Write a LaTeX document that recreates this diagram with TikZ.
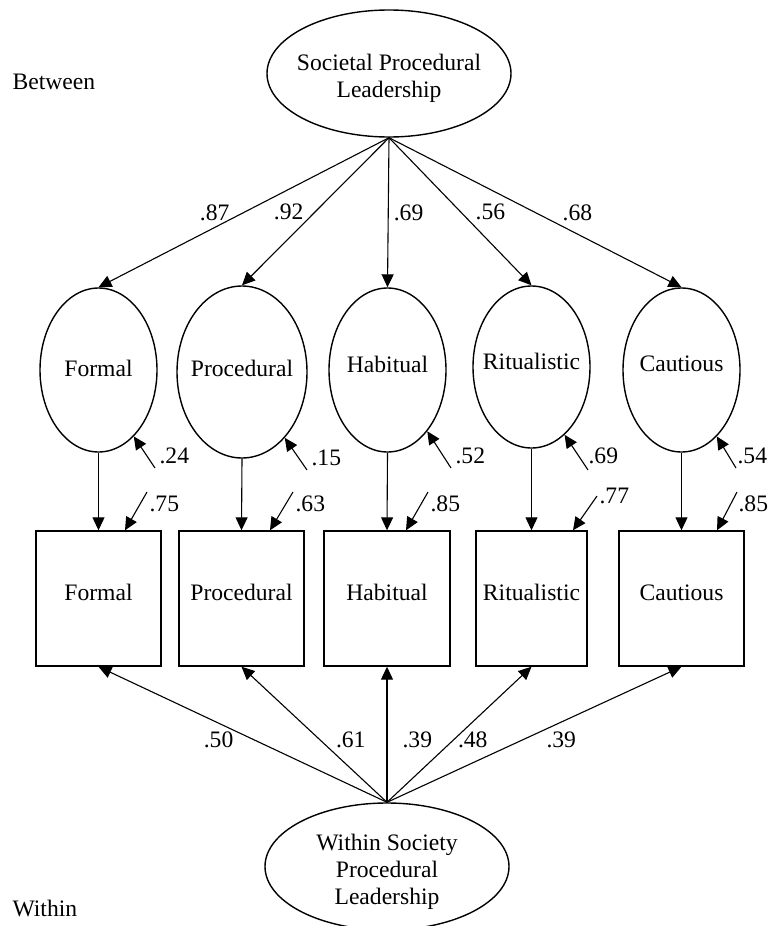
\documentclass[tikz,border=0pt]{standalone}
\usepackage{fontspec}
\setmainfont{Liberation Serif}
\usetikzlibrary{arrows.meta,shapes.geometric}
\tikzset{>={Triangle[length=6.5pt,width=6pt]}}
\tikzset{
  lat/.style={ellipse, draw, line width=0.7pt, inner sep=0pt,
    minimum width=58.5pt, minimum height=82pt},
  big/.style={lat, minimum width=122pt, minimum height=63.5pt},
  obs/.style={rectangle, draw, line width=0.7pt, inner sep=0pt,
    minimum width=62.5pt, minimum height=67.5pt},
  lbl/.style={inner sep=0pt},
  every label/.style={inner sep=0pt}
}

\begin{document}
\begin{tikzpicture}[x=0.5pt, y=-0.5pt, line width=0.55pt]
  \fontsize{11.8}{13.5}\selectfont
  \useasboundingbox (0,0) rectangle (768,926);

  \node[lbl, anchor=west] (btw) at (12,81.5) {Between};
  \node[lbl, anchor=west] (wtn) at (12,908) {Within};

  % between level
  \node[big, label={[align=center, yshift=-2.5pt]center:Societal Procedural\\Leadership}] (soc) at (389,73.5) {};

  \node[lat, label={[yshift=1pt]center:Formal}] (f1) at (98.5,370) {};
  \node[lat, minimum width=65pt, minimum height=86pt, label={[yshift=2pt]center:Procedural}] (f2) at (242,372) {};
  \node[lat, label={[yshift=3pt]center:Habitual}] (f3) at (387.5,370) {};
  \node[lat, minimum height=81pt, label={[yshift=3pt]center:Ritualistic}] (f4) at (531.5,367) {};
  \node[lat, label={[yshift=3pt]center:Cautious}] (f5) at (681.5,370) {};

  \draw[->] (soc.south) -- node[lbl, pos=0.5, left=6.9pt]{.87} (f1.north);
  \draw[->] (soc.south) -- node[lbl, pos=0.5, left=5.75pt]{.92} (f2.north);
  \draw[->] (soc.south) -- node[lbl, pos=0.5, right=2.5pt]{.69} (f3.north);
  \draw[->] (soc.south) -- node[lbl, pos=0.5, right=7.4pt]{.56} (f4.north);
  \draw[->] (soc.south) -- node[lbl, pos=0.5, right=13.4pt]{.68} (f5.north);

  % indicators
  \node[obs, label={[yshift=3pt]center:Formal}] (m1) at (98.5,598.5) {};
  \node[obs, label={[yshift=3pt]center:Procedural}] (m2) at (241.5,598.5) {};
  \node[obs, minimum width=63pt, label={[yshift=3pt]center:Habitual}] (m3) at (387,598.5) {};
  \node[obs, minimum width=55.5pt, label={[yshift=3pt]center:Ritualistic}] (m4) at (531.5,598.5) {};
  \node[obs, label={[yshift=3pt]center:Cautious}] (m5) at (681.5,598.5) {};

  \draw[->] (f1.south) -- (m1.north);
  \draw[->] (f2.south) -- (m2.north);
  \draw[->] (f3.south) -- (m3.north);
  \draw[->] (f4.south) -- (m4.north);
  \draw[->] (f5.south) -- (m5.north);

  % residuals of the factors
  \coordinate (e1) at (155,468);
  \coordinate (e2) at (307,470);
  \coordinate (e3) at (451,468);
  \coordinate (e4) at (588,470);
  \coordinate (e5) at (736,468);
  \draw[->] (e1) node[lbl, anchor=south west, shift={(2pt,2pt)}]{.24} -- (f1.-62);
  \draw[->] (e2) node[lbl, anchor=south west, shift={(2pt,2pt)}]{.15} -- (f2.-57);
  \draw[->] (e3) node[lbl, anchor=south west, shift={(2pt,2pt)}]{.52} -- (f3.-57);
  \draw[->] (e4) node[lbl, anchor=south west, shift={(0pt,3pt)}]{.69} -- (f4.-64);
  \draw[->] (e5) node[lbl, anchor=south west, shift={(0.5pt,2pt)}]{.54} -- (f5.-62);

  % residuals of the indicators
  \coordinate (r1) at (147,492);
  \coordinate (r2) at (293,492);
  \coordinate (r3) at (428,492);
  \coordinate (r4) at (597,496);
  \coordinate (r5) at (737,492);
  \draw[->] (r1) node[lbl, anchor=north west, shift={(1pt,-1.5pt)}]{.75} -- ([xshift=13.25pt]m1.north);
  \draw[->] (r2) node[lbl, anchor=north west, shift={(1pt,-1.5pt)}]{.63} -- ([xshift=14.25pt]m2.north);
  \draw[->] (r3) node[lbl, anchor=north west, shift={(1pt,-1.5pt)}]{.85} -- ([xshift=9.5pt]m3.north);
  \draw[->] (r4) node[lbl, anchor=west, shift={(1pt,0pt)}]{.77} -- ([xshift=20.75pt]m4.north);
  \draw[->] (r5) node[lbl, anchor=north west, shift={(0.5pt,-1.5pt)}]{.85} -- ([xshift=17.75pt]m5.north);

  % within level
  \node[big, label={[align=center, yshift=-2.5pt]center:Within Society\\Procedural\\Leadership}] (wit) at (387,866.5) {};

  \draw[->] (wit.north) -- node[lbl, pos=0.46, left=10.2pt]{.50} (m1.south);
  \draw[->] (wit.north) -- node[lbl, pos=0.46, right=7.7pt]{.61} (m2.south);
  \draw[->] (wit.north) -- node[lbl, pos=0.46, right=7.5pt]{.39} (m3.south);
  \draw[->] (wit.north) -- node[lbl, pos=0.46, right=2pt]{.48} (m4.south);
  \draw[->] (wit.north) -- node[lbl, pos=0.46, right=11.75pt]{.39} (m5.south);

\end{tikzpicture}
\end{document}
